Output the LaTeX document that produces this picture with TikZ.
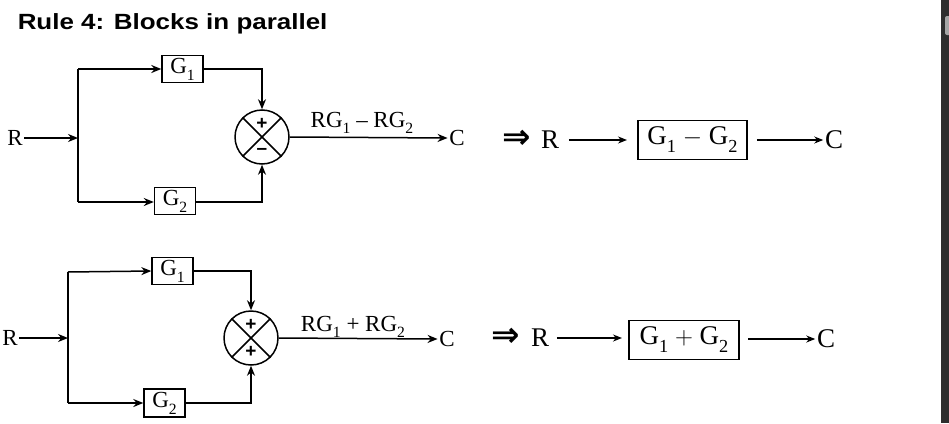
\documentclass[tikz,border=0pt]{standalone}
\usepackage{fontspec}
\setmainfont{Liberation Serif}
\usetikzlibrary{arrows.meta}
\newfontfamily\titlefont{Liberation Sans}
\newfontfamily\symfont{DejaVu Sans}
\newcommand\sbs[1]{\raisebox{-0.3em}{\scalebox{0.68}{#1}}}
\begin{document}
\begin{tikzpicture}[x=1pt,y=-1pt,
  line width=1.5pt,
  arr/.style={-{Stealth[length=10pt,width=8pt]}},
  sarr/.style={-{Stealth[length=9pt,width=7pt]},line width=1.4pt},
  blk/.style={draw,line width=1.4pt,inner sep=0pt,minimum width=41pt,minimum height=27pt,font=\fontsize{23}{26}\selectfont},
  bigblk/.style={draw,line width=1.6pt,inner sep=0pt,minimum width=109pt,minimum height=39pt,font=\fontsize{27}{30}\selectfont},
  sumc/.style={draw,circle,line width=1.5pt,minimum size=54pt,inner sep=0pt},
  lbl/.style={font=\fontsize{23}{26}\selectfont,inner sep=0pt},
  big/.style={font=\fontsize{27}{30}\selectfont,inner sep=1pt},
  impl/.style={font=\symfont\bfseries\fontsize{34}{36}\selectfont,inner sep=0pt},
  sgn/.style={font=\titlefont\bfseries\fontsize{19}{20}\selectfont,inner sep=0pt}]
\fill[white] (0,0) rectangle (949,423);
\useasboundingbox (0,0) rectangle (949,423);
\fill[black!82] (941,0) rectangle (949,423);
\fill[black!35,rounded corners=2pt] (945,16) rectangle (951,35);

% title
\node[anchor=base west,inner sep=0pt] (title) at (17,29)
  {\titlefont\bfseries\fontsize{22}{24}\selectfont\scalebox{1.18}[1]{Rule 4: Blocks in parallel}};

% ---------- top diagram ----------
\node[lbl,inner sep=1pt] (R1) at (15,138) {R};
\coordinate (j1) at (78,138);
\coordinate (j1t) at (78,69);
\coordinate (j1b) at (78,202);
\node[blk] (G1a) at (182.5,69) {G\sbs{1}};
\node[blk] (G2a) at (175,201) {G\sbs{2}};
\node[sumc] (S1) at (262,137) {};
\draw (S1.north west) -- (S1.south east);
\draw (S1.north east) -- (S1.south west);
\node[sgn] (S1p) at (262,124) {+};
\node[sgn] (S1m) at (262,151) {–};
\node[lbl,inner sep=1pt] (C1) at (457,138) {C};
\node[lbl,anchor=base] (L1) at (362,127) {RG\sbs{1} – RG\sbs{2}};

\draw[arr] (R1.east) -- (j1);
\draw (j1t) -- (j1b);
\draw[arr] (j1t) -- (G1a.west);
\draw[arr] (j1b) -- (G2a.west |- j1b);
\draw[arr] (G1a.east) -| (S1.north);
\draw[arr] (G2a.east |- j1b) -| (S1.south);
\draw[arr] (S1.east) -- (C1.west);

% top right equivalent
\node[impl] (I1) at (517,139) {⇒};
\node[big] (R1r) at (550,140) {R};
\node[bigblk] (B1) at (692.5,140) {G\sbs{1} $-$ G\sbs{2}};
\node[big] (C1r) at (834,140) {C};
\draw[sarr] (R1r.east) ++(8,0) -- (627,140);
\draw[sarr] (B1.east) ++(9,0) -- (C1r.west);

% ---------- bottom diagram ----------
\node[lbl,inner sep=1pt] (R2) at (10,338) {R};
\coordinate (j2) at (68,338);
\coordinate (j2t) at (68,272);
\coordinate (j2b) at (68,403);
\node[blk] (G1b) at (172.5,271) {G\sbs{1}};
\node[blk,minimum height=28pt] (G2b) at (164.5,403) {G\sbs{2}};
\node[sumc] (S2) at (251,338) {};
\draw (S2.north west) -- (S2.south east);
\draw (S2.north east) -- (S2.south west);
\node[sgn] (S2p) at (251,325) {+};
\node[sgn] (S2q) at (251,352) {+};
\node[lbl,inner sep=1pt] (C2) at (447,339) {C};
\node[lbl,anchor=base] (L2) at (353,331) {RG\sbs{1} + RG\sbs{2}};

\draw[arr] (R2.east) -- (j2);
\draw (j2t) -- (j2b);
\draw[arr] (j2t) -- (G1b.west);
\draw[arr] (j2b) -- (G2b.west);
\draw[arr] (G1b.east) -| (S2.north);
\draw[arr] (G2b.east) -| (S2.south);
\draw[arr] (S2.east) -- (C2.west);

% bottom right equivalent
\node[impl] (I2) at (506,337) {⇒};
\node[big] (R2r) at (540,338) {R};
\node[bigblk,minimum width=110pt] (B2) at (684,340) {G\sbs{1} $+$ G\sbs{2}};
\node[big] (C2r) at (826,339) {C};
\draw[sarr] (R2r.east) ++(6,0) -- (622,338);
\draw[sarr] (748,339) -- (C2r.west);
\end{tikzpicture}
\end{document}
